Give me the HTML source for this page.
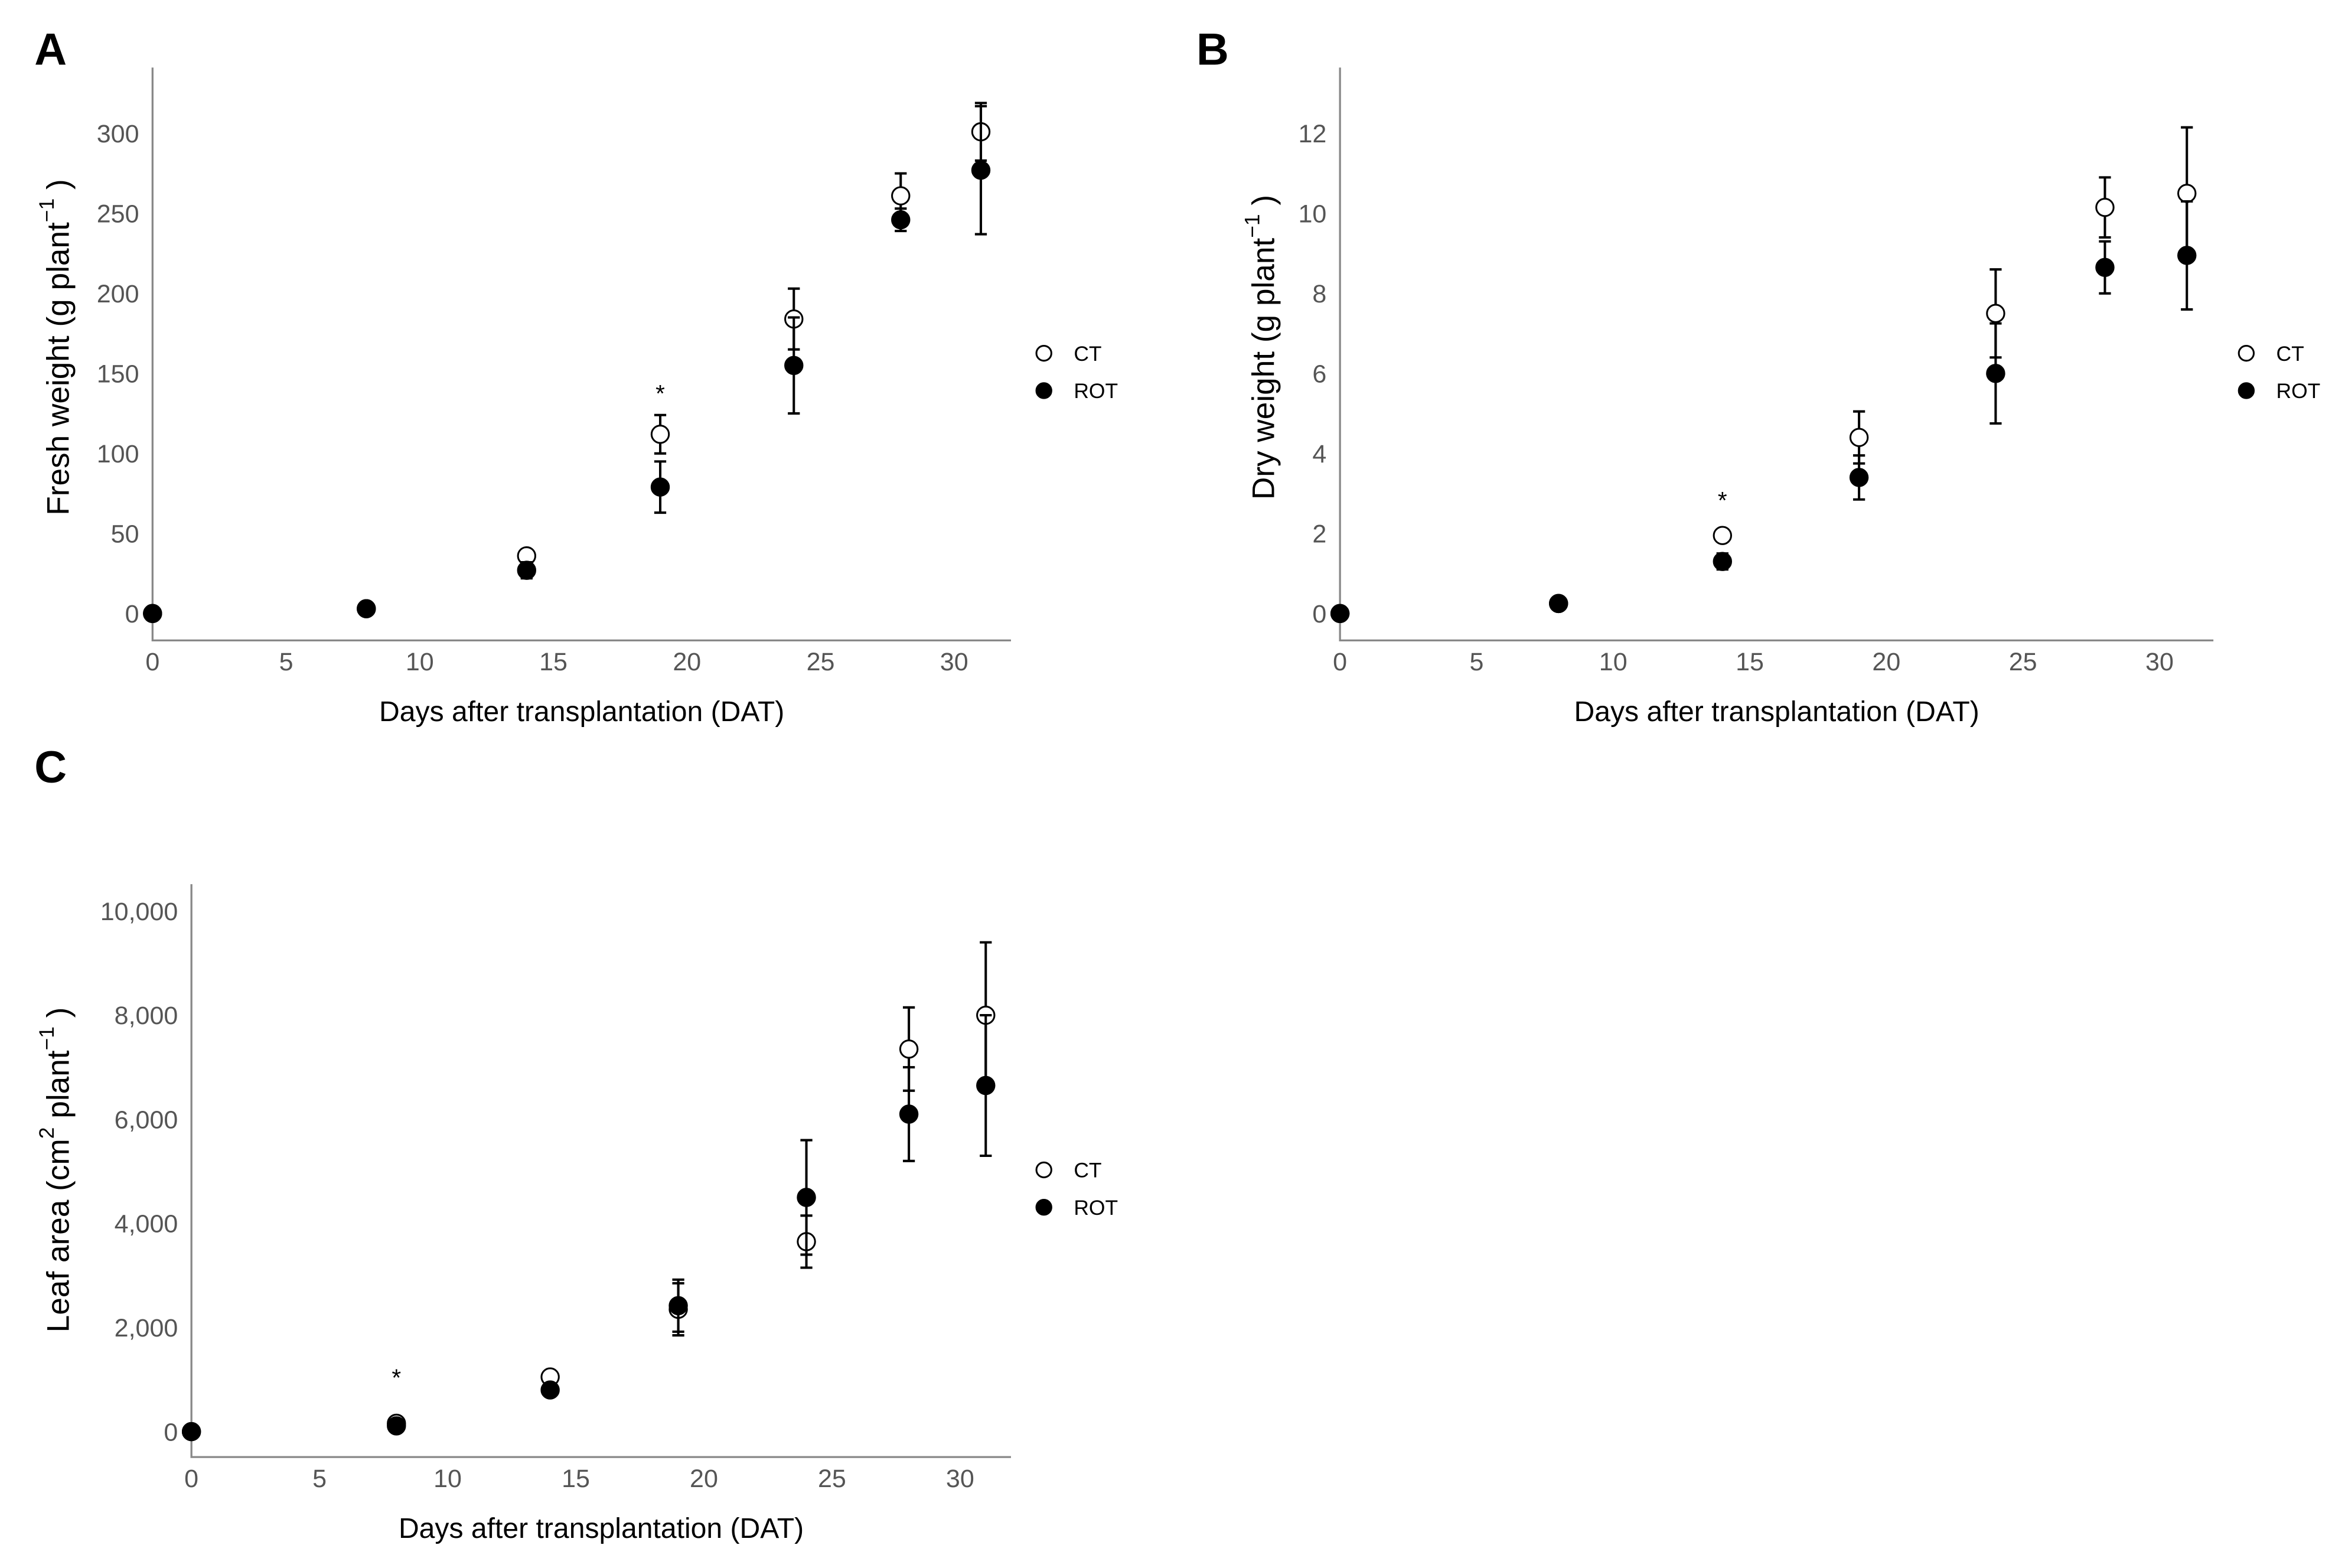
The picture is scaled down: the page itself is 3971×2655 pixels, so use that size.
<!DOCTYPE html>
<html><head><meta charset="utf-8"><style>
html,body{margin:0;padding:0;background:#fff}
svg{display:block}
text{font-family:"Liberation Sans",sans-serif}
</style></head><body>
<svg id="fig" width="3971" height="2655" viewBox="0 0 1568 1048" xmlns="http://www.w3.org/2000/svg"></svg>
<script>
const days = [0, 8, 14, 19, 24, 28, 31];
const xTicks = [0, 5, 10, 15, 20, 25, 30];
// Panel A: fresh weight
const aTicks = [0, 50, 100, 150, 200, 250, 300];
const aCT = [0, 3, 36, 112, 184, 261, 301];
const aCTerr = [0, 0, 4, 12, 19, 14, 18];
const aROT = [0, 3, 27, 79, 155, 246, 277];
const aROTerr = [0, 0, 5, 16, 30, 7, 40];
const aStar = [19, 138];
// Panel B: dry weight
const bTicks = [0, 2, 4, 6, 8, 10, 12];
const bCT = [0, 0.25, 1.95, 4.4, 7.5, 10.15, 10.5];
const bCTerr = [0, 0, 0.1, 0.65, 1.1, 0.75, 1.65];
const bROT = [0, 0.25, 1.3, 3.4, 6.0, 8.65, 8.95];
const bROTerr = [0, 0, 0.2, 0.55, 1.25, 0.65, 1.35];
const bStar = [14, 2.85];
// Panel C: leaf area
const cTicks = [0, 2000, 4000, 6000, 8000, 10000];
const cTickLabels = ["0", "2,000", "4,000", "6,000", "8,000", "10,000"];
const cCT = [0, 160, 1050, 2350, 3650, 7350, 8000];
const cCTerr = [0, 0, 0, 500, 500, 800, 1400];
const cROT = [0, 110, 800, 2420, 4500, 6100, 6650];
const cROTerr = [0, 0, 60, 500, 1100, 900, 1350];
const cStar = [8, 1050];

const NS = "http://www.w3.org/2000/svg";
const svg = document.getElementById("fig");
function mk(tag, attrs, parent, txt){
  const e = document.createElementNS(NS, tag);
  for (const k in attrs) e.setAttribute(k, attrs[k]);
  if (txt !== undefined) e.textContent = txt;
  (parent || svg).appendChild(e);
  return e;
}
function panel(p){
  const g = mk("g", {});
  
  
  const X = d => p.x0 + d * (p.x30 - p.x0) / 30;
  const Y = v => p.y0 + v * (p.yTop - p.y0) / p.vTop;
  const lbl = mk("text", {x: p.lx, y: p.ly, "font-size": 30, "font-weight": "bold", fill: "#000"}, g, p.id);
  
  
  const ax = mk("path", {d: `M${p.x0} ${p.axTop} V${p.axBot} H${p.axRight}`, stroke: "#888", "stroke-width": 1.3, fill: "none"}, g);
  
  
  xTicks.forEach(t => {
    const tx = mk("text", {x: X(t), y: p.axBot + 20, "font-size": 17, fill: "#555", "text-anchor": "middle"}, g, String(t));
    
    
  });
  p.ticks.forEach((t, i) => {
    const ty = mk("text", {x: p.x0 - 9, y: Y(t) + 6, "font-size": 17, fill: "#555", "text-anchor": "end"}, g, p.tickLabels ? p.tickLabels[i] : String(t));
    
    
  });
  const xt = mk("text", {x: (p.x0 + p.axRight) / 2, y: p.axBot + 54, "font-size": 19, fill: "#000", "text-anchor": "middle"}, g, "Days after transplantation (DAT)");
  
  
  const yt = mk("text", {x: 0, y: 0, "font-size": 21, fill: "#000", "text-anchor": "middle", "font-family": "DejaVu Sans, sans-serif", transform: `translate(${p.ytx},${p.yty}) rotate(-90)`}, g);
  
  
  p.ytitle.forEach(([s, sup]) => {
    if (sup) { mk("tspan", {dy: -10, "font-size": 14}, yt, s); }
    else { mk("tspan", {dy: yt.childNodes.length && yt.lastChild.getAttribute('font-size') ? 10 : 0}, yt, s); }
  });
  function series(vals, errs, filled, name){
    vals.forEach((v, i) => {
      const cx = X(days[i]), cy = Y(v);
      if (errs[i] > 0) {
        const y1 = Y(v + errs[i]), y2 = Y(v - errs[i]);
        const eb = mk("path", {d: `M${cx} ${y1} V${y2} M${cx-4} ${y1} H${cx+4} M${cx-4} ${y2} H${cx+4}`, stroke: "#000", "stroke-width": 1.6, fill: "none"}, g);
        
        
      }
      const c = mk("circle", {cx: cx, cy: cy, r: 5.8, fill: filled ? "#000" : "#fff", stroke: "#000", "stroke-width": 1.2}, g);
      
      
    });
  }
  series(p.ct, p.cterr, false, "ct");
  series(p.rot, p.roterr, true, "rot");
  const st = mk("text", {x: X(p.star[0]), y: Y(p.star[1]) + 6, "font-size": 16, "text-anchor": "middle", fill: "#000"}, g, "*");
  
  
  [["CT", false, 0], ["ROT", true, 25]].forEach(([n, f, dy]) => {
    const c = mk("circle", {cx: p.legX, cy: p.legY + dy, r: 5, fill: f ? "#000" : "#fff", stroke: "#000", "stroke-width": 1.2}, g);
    
    
    const t = mk("text", {x: p.legX + 20, y: p.legY + dy + 5, "font-size": 14, fill: "#000"}, g, n);
    
    
  });
}
panel({id: "A", lx: 23, ly: 43, x0: 102, x30: 638, axTop: 45, axBot: 428, axRight: 676, y0: 410, yTop: 89, vTop: 300,
  ticks: aTicks, ytitle: [["Fresh weight (g plant", false], ["\u22121", true], [" )", false]], ytx: 46, yty: 232,
  ct: aCT, cterr: aCTerr, rot: aROT, roterr: aROTerr, star: aStar, legX: 698, legY: 236});
panel({id: "B", lx: 800, ly: 43, x0: 896, x30: 1444, axTop: 45, axBot: 428, axRight: 1480, y0: 410, yTop: 89, vTop: 12,
  ticks: bTicks, ytitle: [["Dry weight (g plant", false], ["\u22121", true], [" )", false]], ytx: 852, yty: 232,
  ct: bCT, cterr: bCTerr, rot: bROT, roterr: bROTerr, star: bStar, legX: 1502, legY: 236});
panel({id: "C", lx: 23, ly: 523, x0: 128, x30: 642, axTop: 591, axBot: 974, axRight: 676, y0: 957, yTop: 609, vTop: 10000,
  ticks: cTicks, tickLabels: cTickLabels, ytitle: [["Leaf area (cm", false], ["2", true], ["   plant", false], ["\u22121", true], [" )", false]], ytx: 46, yty: 782,
  ct: cCT, cterr: cCTerr, rot: cROT, roterr: cROTerr, star: cStar, legX: 698, legY: 782});
</script>
</body></html>
